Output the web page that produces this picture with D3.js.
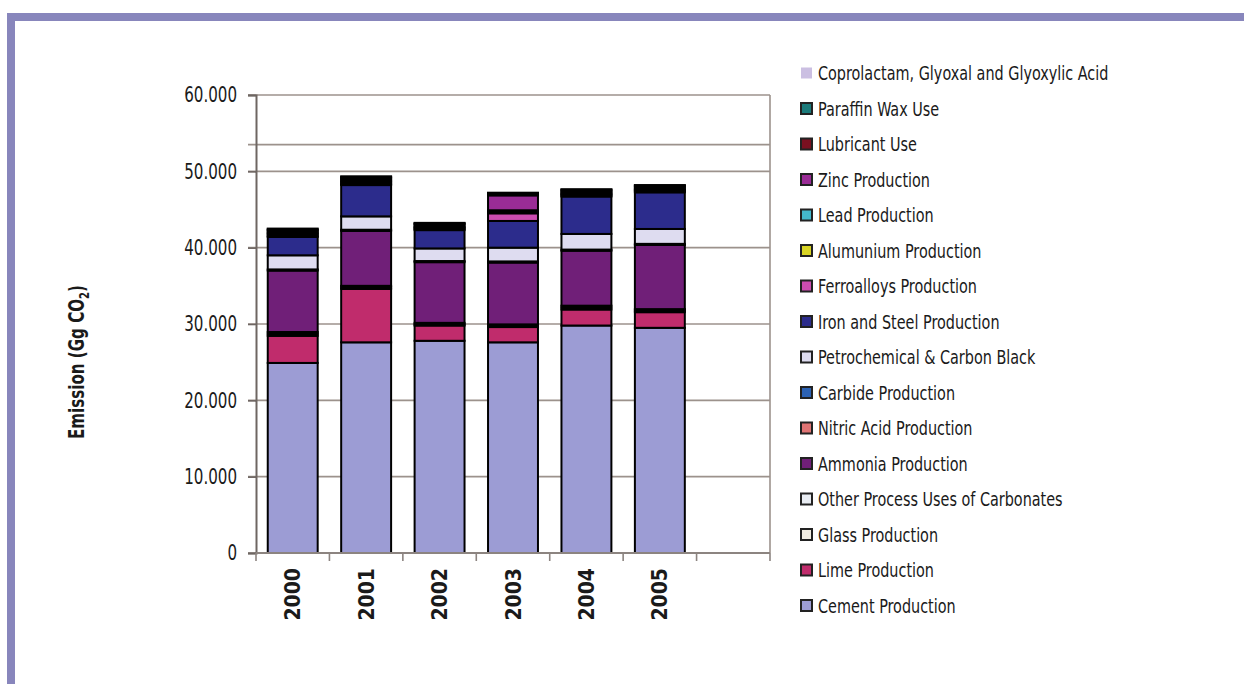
<!DOCTYPE html>
<html>
<head>
<meta charset="utf-8">
<script src="https://cdn.jsdelivr.net/npm/d3@7"></script>
<style>
  body { margin: 0; background: #fff; }
  svg { display: block; }
  text { font-family: "DejaVu Sans", sans-serif; font-stretch: condensed; fill: #1a1a1a; }
</style>
</head>
<body>
<svg id="chart" width="1244" height="684"></svg>
<script>
// categories (the last slot is left empty in the original)
const years = ["2000", "2001", "2002", "2003", "2004", "2005"];
const slots = [...years, ""];

// series values in Gg CO2, bottom of the stack first
const cement        = [24900, 27600, 27800, 27600, 29800, 29500];
const lime          = [3550, 7000, 2000, 2000, 2100, 2050];
const glass         = [250, 200, 150, 150, 250, 200];
const otherCarb     = [250, 200, 200, 200, 250, 200];
const ammonia       = [8050, 7200, 7950, 8100, 7200, 8400];
const nitric        = [0, 0, 0, 0, 0, 0];
const carbide       = [150, 150, 150, 150, 150, 150];
const petrochem     = [1850, 1750, 1650, 1800, 2050, 1950];
const ironSteel     = [2400, 4100, 2400, 3500, 4900, 4800];
const ferroalloys   = [150, 150, 150, 1000, 150, 150];
const aluminium     = [200, 200, 150, 200, 150, 150];
const lead          = [150, 150, 100, 200, 100, 100];
const zinc          = [200, 200, 200, 1950, 200, 200];
const lubricant     = [200, 200, 200, 200, 200, 200];
const paraffin      = [100, 150, 100, 100, 100, 100];
const coprolactam   = [100, 100, 50, 50, 50, 50];

const yTicks = [0, 10000, 20000, 30000, 40000, 50000, 60000];
const extraLine = [53500];

const series = [
  { name: "Cement Production", values: cement, color: "#9c9cd4" },
  { name: "Lime Production", values: lime, color: "#c02c6c" },
  { name: "Glass Production", values: glass, color: "#f1ede2" },
  { name: "Other Process Uses of Carbonates", values: otherCarb, color: "#e8ecf2" },
  { name: "Ammonia Production", values: ammonia, color: "#701f78" },
  { name: "Nitric Acid Production", values: nitric, color: "#e07474" },
  { name: "Carbide Production", values: carbide, color: "#2c62b4" },
  { name: "Petrochemical & Carbon Black", values: petrochem, color: "#dedcf0" },
  { name: "Iron and Steel Production", values: ironSteel, color: "#2c2c8c" },
  { name: "Ferroalloys Production", values: ferroalloys, color: "#cc4cb0" },
  { name: "Alumunium Production", values: aluminium, color: "#d8d424" },
  { name: "Lead Production", values: lead, color: "#44b8cc" },
  { name: "Zinc Production", values: zinc, color: "#9a2c96" },
  { name: "Lubricant Use", values: lubricant, color: "#7a1020" },
  { name: "Paraffin Wax Use", values: paraffin, color: "#1a7a7a" },
  { name: "Coprolactam, Glyoxal and Glyoxylic Acid", values: coprolactam, color: "#cbbfe2" }
];

const table = years.map((yr, i) => {
  const row = { year: yr };
  series.forEach(s => (row[s.name] = s.values[i]));
  return row;
});

const svg = d3.select("#chart");
const margin = { top: 95, right: 474, bottom: 131, left: 256 };
const width = 1244, height = 684;
const squeeze = 0.8; // the original font is a narrow one

// outer frame
svg.append("rect").attr("x", 11).attr("y", 17).attr("width", 1260).attr("height", 700)
  .attr("fill", "none").attr("stroke", "#8886bc").attr("stroke-width", 8);

const x = d3.scaleBand()
  .domain(slots)
  .range([margin.left, width - margin.right])
  .paddingInner(0.32).paddingOuter(0.16);

const y = d3.scaleLinear()
  .domain([0, 60000])
  .range([height - margin.bottom, margin.top]);

const locale = d3.formatLocale({ decimal: ",", thousands: ".", grouping: [3], currency: ["", ""] });
const fmt = locale.format(",d");

// grid
const grid = svg.append("g");
grid.selectAll("line.g").data(yTicks.concat(extraLine)).join("line")
  .attr("x1", margin.left - 8).attr("x2", width - margin.right)
  .attr("y1", d => y(d)).attr("y2", d => y(d))
  .attr("stroke", "#9c928c").attr("stroke-width", 1.6);
grid.append("line")
  .attr("x1", width - margin.right).attr("x2", width - margin.right)
  .attr("y1", y(60000)).attr("y2", y(0))
  .attr("stroke", "#9c928c").attr("stroke-width", 1.6);

// bars
const stack = d3.stack().keys(series.map(s => s.name));
const layers = stack(table);
svg.append("g").selectAll("g").data(layers).join("g")
  .attr("fill", (d, i) => series[i].color)
  .selectAll("rect").data(d => d).join("rect")
  .attr("x", d => x(d.data.year))
  .attr("y", d => y(d[1]))
  .attr("height", d => y(d[0]) - y(d[1]))
  .attr("width", x.bandwidth())
  .attr("stroke", "#000").attr("stroke-width", 2);

// y axis
const yAxis = svg.append("g")
  .attr("transform", `translate(${margin.left},0)`)
  .call(d3.axisLeft(y).tickValues(yTicks).tickFormat(d => fmt(d)).tickSize(8).tickPadding(11));
yAxis.select(".domain").attr("stroke", "#6e6662").attr("stroke-width", 2);
yAxis.selectAll(".tick line").attr("stroke", "#6e6662").attr("stroke-width", 1.6);
yAxis.selectAll(".tick text")
  .attr("font-size", 21).attr("fill", "#1a1a1a")
  .attr("x", -19 / squeeze).attr("transform", `scale(${squeeze},1)`)
  .style("font-family", "'DejaVu Sans', sans-serif").style("font-stretch", "condensed");

// x axis
const step = x.step();
const xAxis = svg.append("g")
  .attr("transform", `translate(0,${y(0)})`);
xAxis.append("line").attr("x1", margin.left).attr("x2", width - margin.right)
  .attr("stroke", "#8c8480").attr("stroke-width", 2);
xAxis.selectAll("line.t").data(d3.range(slots.length + 1)).join("line")
  .attr("x1", i => margin.left + i * step).attr("x2", i => margin.left + i * step)
  .attr("y1", 0).attr("y2", 8)
  .attr("stroke", "#8c8480").attr("stroke-width", 1.6);
xAxis.selectAll("text").data(years).join("text")
  .attr("transform", d => `translate(${x(d) + x.bandwidth() / 2},15) rotate(-90)`)
  .attr("text-anchor", "end").attr("dy", "0.36em")
  .attr("font-size", 21).attr("font-weight", "bold")
  .text(d => d);

// y title
const title = svg.append("text")
  .attr("transform", `translate(77,362) rotate(-90) scale(${squeeze},1)`)
  .attr("text-anchor", "middle").attr("dy", "0.35em")
  .attr("font-size", 21).attr("font-weight", "bold");
title.append("tspan").text("Emission (Gg CO");
title.append("tspan").attr("font-size", 14).attr("dy", 5).text("2");
title.append("tspan").attr("dy", -5).text(")");

// legend
const legend = svg.append("g").attr("transform", "translate(801,73)");
const rows = legend.selectAll("g").data(series.slice().reverse()).join("g")
  .attr("transform", (d, i) => `translate(0,${i * 35.5})`);
rows.append("rect")
  .attr("x", 0).attr("y", -5.5).attr("width", 11).attr("height", 11)
  .attr("fill", d => d.color)
  .attr("stroke", (d, i) => (i === 0 ? "none" : "#222"))
  .attr("stroke-width", 2);
rows.append("text")
  .attr("transform", `translate(17,0) scale(${squeeze},1)`)
  .attr("dy", "0.36em")
  .attr("font-size", 20)
  .text(d => d.name);
</script>
</body>
</html>
